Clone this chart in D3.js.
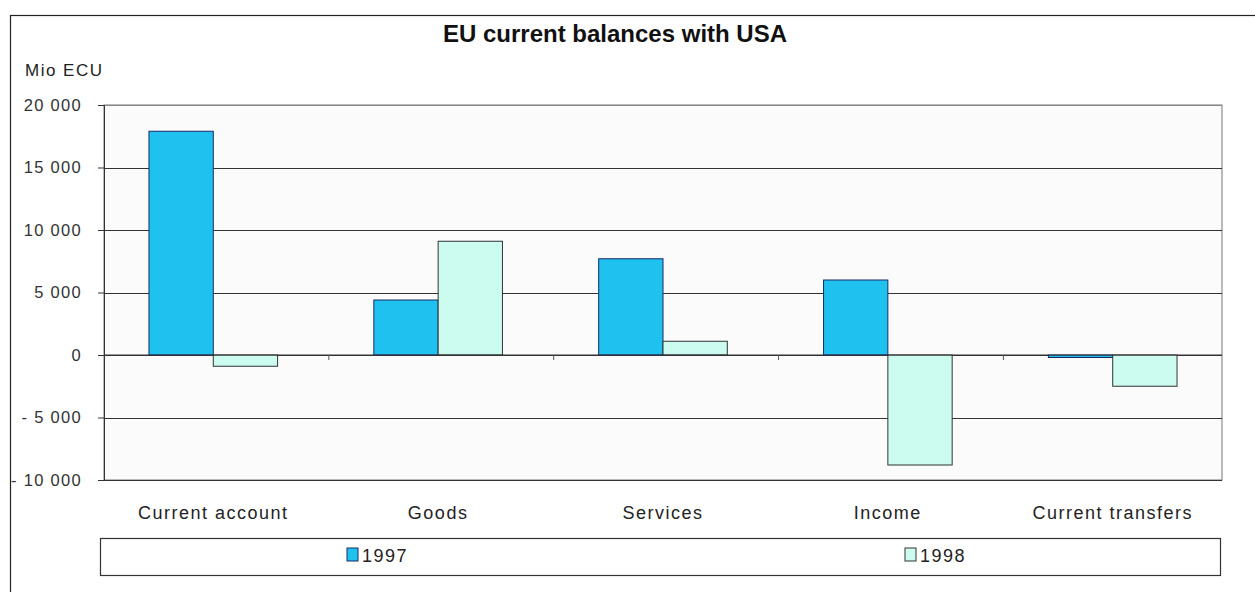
<!DOCTYPE html>
<html><head><meta charset="utf-8">
<script src="https://cdn.jsdelivr.net/npm/d3@7"></script>
<style>body{margin:0;background:#fff;}svg{display:block;font-family:Arial,"Liberation Sans",sans-serif;}</style>
</head><body><svg id="c" width="1255" height="592"></svg>
<script>
const categories = ["Current account","Goods","Services","Income","Current transfers"];
const seriesNames = ["1997","1998"];
const values1997 = [17900, 4400, 7700, 6000, -200];
const values1998 = [-900, 9100, 1100, -8800, -2500];
const yTicks = [-10000,-5000,0,5000,10000,15000,20000];
const colors = ["#1fc1ef","#ccfcef"];
const strokes = ["#1a2a6a","#333"];

const svg = d3.select("#c");
const m = {left:104, right:1222, top:105, bottom:480};

// outer frame
svg.append("rect").attr("x",10.5).attr("y",15.5).attr("width",1260).attr("height",600)
  .attr("fill","#fff").attr("stroke","#222").attr("stroke-width",1.2);

svg.append("text").attr("x",615).attr("y",42).attr("text-anchor","middle")
  .attr("font-size",24).attr("font-weight","bold").attr("fill","#111").text("EU current balances with USA");
svg.append("text").attr("x",25).attr("y",76).attr("font-size",17).attr("fill","#222")
  .attr("letter-spacing",1.5).text("Mio ECU");

const x = d3.scaleBand().domain(categories).range([m.left,m.right]).paddingInner(0.428).paddingOuter(0.2);
const xs = d3.scaleBand().domain(seriesNames).range([0,x.bandwidth()]);
const y = d3.scaleLinear().domain([-10000,20000]).range([m.bottom,m.top]);

svg.append("rect").attr("x",m.left).attr("y",m.top).attr("width",m.right-m.left).attr("height",m.bottom-m.top)
  .attr("fill","#fbfbfb").attr("stroke","#777").attr("stroke-width",1);

// gridlines
svg.append("g").selectAll("line").data(yTicks).join("line")
  .attr("x1",m.left).attr("x2",m.right).attr("y1",d=>Math.round(y(d))+0.5).attr("y2",d=>Math.round(y(d))+0.5)
  .attr("stroke",d=>d===20000?"#888":"#333").attr("stroke-width",1);

// y axis
const fmt = d => (d<0?"- ":"") + d3.format(",")(Math.abs(d)).replace(/,/g," ");
const ya = svg.append("g").attr("transform",`translate(${m.left},0)`)
  .call(d3.axisLeft(y).tickValues(yTicks).tickSize(6).tickPadding(16).tickFormat(fmt));
ya.select(".domain").attr("stroke","#333");
ya.selectAll(".tick line").attr("stroke","#333");
ya.selectAll("text").attr("font-size",16.5).attr("fill","#333").attr("letter-spacing",1.3)
  .attr("font-family","Arial,'Liberation Sans',sans-serif");

// bars
const data = categories.map((c,i)=>({c, v:[values1997[i],values1998[i]]}));
const g = svg.append("g");
data.forEach(d=>{
  seriesNames.forEach((s,j)=>{
    const v = d.v[j];
    g.append("rect")
      .attr("x",x(d.c)+xs(s)).attr("width",xs.bandwidth())
      .attr("y",y(Math.max(0,v))).attr("height",Math.abs(y(v)-y(0)))
      .attr("fill",colors[j]).attr("stroke",strokes[j]).attr("stroke-width",1);
  });
});

// zero axis with category boundary ticks
const xa = svg.append("g").attr("transform",`translate(0,${y(0)})`);
xa.append("line").attr("x1",m.left).attr("x2",m.right).attr("stroke","#333");
xa.selectAll("line.t").data(d3.range(1,categories.length)).join("line").attr("class","t")
  .attr("x1",i=>m.left+i*x.step()).attr("x2",i=>m.left+i*x.step()).attr("y1",0).attr("y2",5).attr("stroke","#555");

// category labels
svg.append("g").selectAll("text").data(categories).join("text")
  .attr("x",d=>x(d)+x.bandwidth()/2).attr("y",519).attr("text-anchor","middle")
  .attr("font-size",18).attr("fill","#222").attr("letter-spacing",1.5).text(d=>d);

// legend
svg.append("rect").attr("x",100.5).attr("y",538.5).attr("width",1120).attr("height",37)
  .attr("fill","#fff").attr("stroke","#333").attr("stroke-width",1.2);
const lx = [347, 905];
seriesNames.forEach((s,j)=>{
  svg.append("rect").attr("x",lx[j]).attr("y",548).attr("width",11).attr("height",13)
    .attr("fill",colors[j]).attr("stroke",strokes[j]);
  svg.append("text").attr("x",lx[j]+15).attr("y",562).attr("font-size",18).attr("fill","#222")
    .attr("letter-spacing",1.5).text(s);
});
</script></body></html>
